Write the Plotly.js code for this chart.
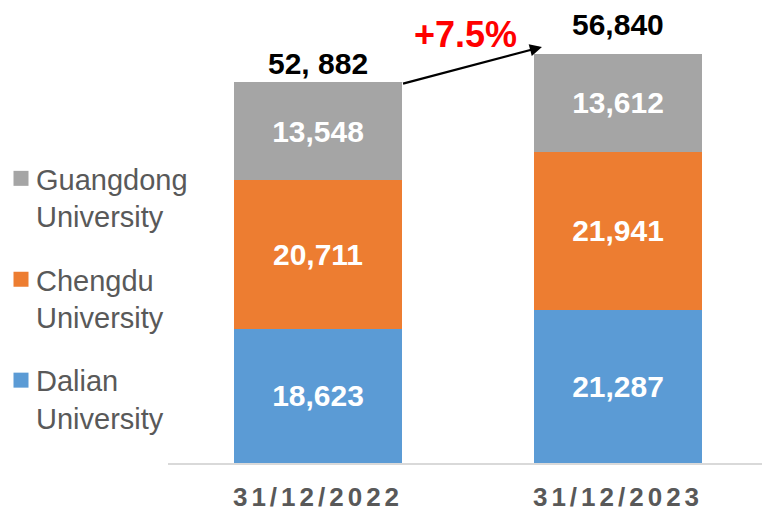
<!DOCTYPE html>
<html>
<head>
<meta charset="utf-8">
<script src="https://cdn.plot.ly/plotly-3.0.1.min.js"></script>
<style>
  html, body { margin: 0; padding: 0; background: #fff; }
  #chart { width: 762px; height: 511px; }
  .xtick text { letter-spacing: 4px; }
  .legendpoints path { scale: 1.25; }
  g.legend { translate: -4px 0; }
</style>
</head>
<body>
<div id="chart"></div>
<script>
// ---- data ----
const categories = ["31/12/2022", "31/12/2023"];
const seriesNames = ["Dalian<br>University", "Chengdu<br>University", "Guangdong<br>University"];
const dalian = [18623, 21287];
const chengdu = [20711, 21941];
const guangdong = [13548, 13612];
const totalLabels = ["52, 882", "56,840"];
const growthLabel = "+7.5%";

// ---- styles ----
const colors = ["#5b9bd5", "#ed7d31", "#a5a5a5"];
const FONT = "Arial, 'Liberation Sans', sans-serif";
const barWidth = 0.557;
const totalLabelShift = [0, 11];

const seriesValues = [dalian, chengdu, guangdong];
const totals = categories.map((_, i) => dalian[i] + chengdu[i] + guangdong[i]);

const traces = seriesValues.map((vals, k) => ({
  type: "bar",
  x: categories,
  y: vals,
  name: seriesNames[k],
  legendgroup: "g" + k,
  legendrank: 1000 - k,
  marker: { color: colors[k] },
  width: barWidth,
  texttemplate: "%{y:,}",
  textposition: "inside",
  insidetextanchor: "middle",
  textangle: 0,
  insidetextfont: { family: FONT, size: 30, color: "#ffffff", weight: 700 },
  hoverinfo: "skip"
}));

const annotations = [];
categories.forEach((c, i) => {
  annotations.push({
    x: c, y: totals[i], xref: "x", yref: "y",
    text: totalLabels[i], showarrow: false,
    yanchor: "bottom", yshift: totalLabelShift[i],
    font: { family: FONT, size: 30, color: "#000000", weight: 700 }
  });
});
// growth arrow
annotations.push({
  x: 1 - barWidth / 2 + 0.025, y: totals[1] + 940, xref: "x", yref: "y",
  ax: 0 + barWidth / 2, ay: totals[0] - 250, axref: "x", ayref: "y",
  text: "", showarrow: true, arrowhead: 2, arrowsize: 1.1, arrowwidth: 2.2,
  arrowcolor: "#000000"
});
annotations.push({
  x: 0.49, y: (totals[0] + totals[1]) / 2 + 4700, xref: "x", yref: "y",
  text: growthLabel, showarrow: false,
  font: { family: FONT, size: 36, color: "#ff0000", weight: 700 }
});

const layout = {
  width: 762, height: 511,
  margin: { l: 168, r: 0, t: 20, b: 48, autoexpand: false },
  paper_bgcolor: "#ffffff", plot_bgcolor: "#ffffff",
  barmode: "stack",
  showlegend: true,
  legend: {
    xref: "container", yref: "container",
    x: 0, y: 1 - 153 / 511, xanchor: "left", yanchor: "top",
    traceorder: "grouped",
    tracegroupgap: 22.5,
    valign: "top",
    maxheight: 1,
    font: { family: FONT, size: 29, color: "#595959" },
    bgcolor: "rgba(0,0,0,0)"
  },
  xaxis: {
    type: "category",
    range: [-0.5, 1.48],
    showline: true, linecolor: "#d9d9d9", linewidth: 2,
    ticks: "", showgrid: false, zeroline: false,
    tickfont: { family: FONT, size: 26, color: "#595959", weight: 700 },
    ticklabelstandoff: 10
  },
  yaxis: {
    range: [0, 443 / 0.0072],
    visible: false, showgrid: false, zeroline: false
  },
  annotations: annotations
};

Plotly.newPlot("chart", traces, layout, { displayModeBar: false, staticPlot: true });
</script>
</body>
</html>
